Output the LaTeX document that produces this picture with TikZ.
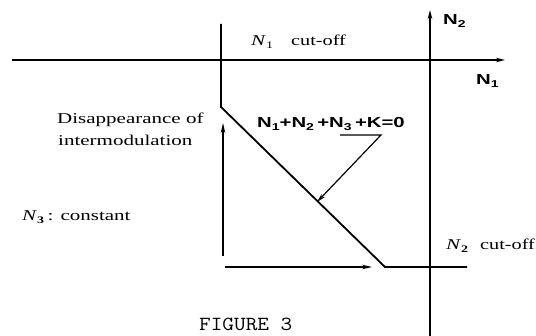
\documentclass[tikz,border=0pt]{standalone}
\usepackage{fontspec}
\setmainfont{Liberation Serif}
\setsansfont{Liberation Sans}
\usetikzlibrary{arrows.meta}
\newcommand{\sub}[1]{\raisebox{-0.3ex}{\fontsize{10}{12}\selectfont #1}}
\newcommand{\wide}[1]{\scalebox{1.4}[1]{#1}}
\newcommand{\semiwide}[1]{\scalebox{1.35}[1]{#1}}
\begin{document}
\begin{tikzpicture}[x=1pt,y=-1pt,
  axis/.style={line width=1.4pt,-{Stealth[length=9pt,width=4.5pt]}},
  thick line/.style={line width=1.8pt},
  flow/.style={line width=1.4pt,-{Stealth[length=10pt,width=4.5pt]}},
  serif lbl/.style={font=\fontsize{15}{17}\selectfont,inner sep=0pt},
  sans lbl/.style={font=\sffamily\bfseries\fontsize{14.5}{16}\selectfont,inner sep=0pt}]
\useasboundingbox (0,0) rectangle (536,336);
% coordinates
\coordinate (n1s) at (12,60);
\coordinate (n1e) at (505,60);
\coordinate (n2s) at (430,336);
\coordinate (n2e) at (430,10);
\coordinate (vtop) at (221,24);
\coordinate (vbend) at (221,107);
\coordinate (dend) at (385,267);
\coordinate (hend) at (467,267);
\coordinate (ua0) at (223,256);
\coordinate (ua1) at (223,123);
\coordinate (ra0) at (225,267);
\coordinate (ra1) at (372,267);
\coordinate (ul0) at (340,135);
\coordinate (ul1) at (381,135);
\coordinate (ltip) at (317,202);
% axes
\draw[axis] (n1s) -- (n1e);
\draw[axis] (n2s) -- (n2e);
% boundary
\draw[thick line] (vtop) -- (vbend) -- (dend) -- (hend);
% flow arrows
\draw[flow] (ua0) -- (ua1);
\draw[flow] (ra0) -- (ra1);
% leader
\draw[line width=1.2pt,-{Stealth[length=9pt,width=4.5pt]}] (ul0) -- (ul1) -- (ltip);
% labels
\node[serif lbl,anchor=base west] (t1) at (251,46) {\wide{\textit{N}\sub{1}}\hspace{18pt}\semiwide{cut-off}};
\node[serif lbl,anchor=base west] (t2) at (446,250) {\wide{\textit{N}\sub{\textbf{2}}}\hspace{12pt}\semiwide{cut-off}};
\node[serif lbl,anchor=base west] (t3) at (22,221) {\wide{\textit{N}\sub{\textbf{3}}\,: constant}};
\node[serif lbl,anchor=base west] (t4) at (57,124) {\wide{Disappearance of}};
\node[serif lbl,anchor=base west] (t5) at (58,146) {\wide{intermodulation}};
\node[sans lbl,anchor=base west] (t6) at (443,25) {\wide{N\sub{2}}};
\node[sans lbl,anchor=base west] (t7) at (476,85) {\wide{N\sub{1}}};
\node[sans lbl,anchor=base west] (t8) at (257,128) {\wide{N\sub{1}+N\sub{2}\,+N\sub{3}\,+K=0}};
\node[font=\ttfamily\fontsize{20}{22}\selectfont,inner sep=0pt,anchor=base west] (t9) at (199,331) {\scalebox{1.13}[1]{FIGURE 3}};
\end{tikzpicture}
\end{document}
